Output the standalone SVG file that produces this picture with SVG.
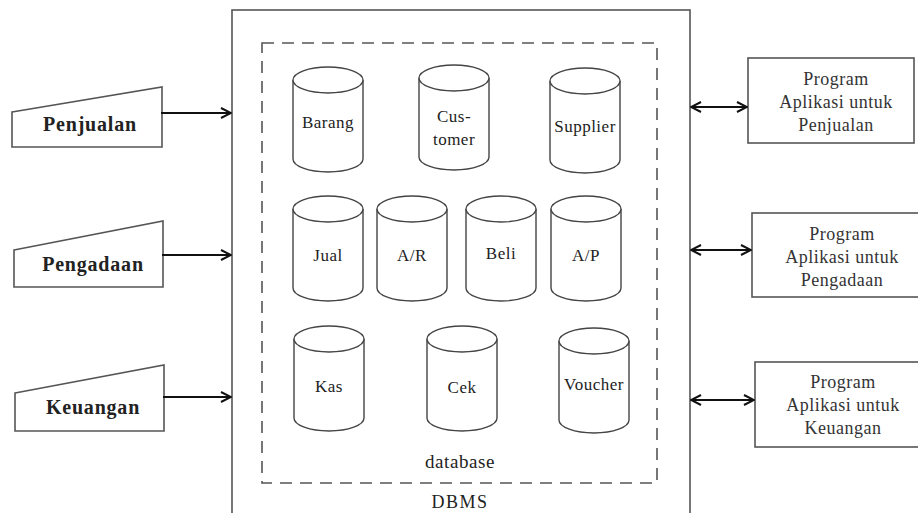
<svg xmlns="http://www.w3.org/2000/svg" width="918" height="513" viewBox="0 0 918 513" font-family="'Liberation Serif', 'Times New Roman', 'DejaVu Serif', serif">
<style>
.box{fill:#fff;stroke:#555;stroke-width:1.6}
.cyl{fill:#fff;stroke:#444;stroke-width:1.4}
text{font-family:'Liberation Serif','Times New Roman','DejaVu Serif',serif;fill:#222;text-anchor:middle}
.cl{font-size:17px;letter-spacing:0.5px}
.in{font-size:20px;font-weight:bold;letter-spacing:0.8px}
.pg{font-size:18px;letter-spacing:0.5px;fill:#333}
.conn{stroke:#111;stroke-width:2;fill:none}
</style>
<defs>
<marker id="ah" viewBox="0 0 12 12" refX="11" refY="6" markerWidth="12" markerHeight="12" markerUnits="userSpaceOnUse" orient="auto-start-reverse">
<path d="M1,1 L11,6 L1,11" fill="none" stroke="#111" stroke-width="2"/>
</marker>
<g id="cylShape">
<path class="cyl" d="M0,13 A35,13 0 0 1 70,13 L70,92 A35,13 0 0 1 0,92 Z"/>
<path class="cyl" d="M0,13 A35,13 0 0 0 70,13" fill="none"/>
</g>
</defs>
<rect width="918" height="513" fill="#fff"/>

<g id="dbms">
<rect x="232" y="10" width="458" height="520" class="box"/>
<text x="460" y="508" font-size="18" letter-spacing="1.5" fill="#333">DBMS</text>
</g>
<g id="database">
<rect x="262" y="43" width="395" height="440" fill="none" stroke="#555" stroke-width="1.6" stroke-dasharray="12,8"/>
<text x="460" y="468" font-size="19" letter-spacing="0.6">database</text>
</g>

<g id="barang"><use href="#cylShape" x="293" y="67"/><text class="cl" x="328" y="128">Barang</text></g>
<g id="customer"><use href="#cylShape" x="419" y="65"/><text class="cl" x="454" y="122">Cus-</text><text class="cl" x="454" y="145">tomer</text></g>
<g id="supplier"><use href="#cylShape" x="550" y="68"/><text class="cl" x="585" y="132">Supplier</text></g>

<g id="jual"><use href="#cylShape" x="293" y="196"/><text class="cl" x="328" y="261">Jual</text></g>
<g id="ar"><use href="#cylShape" x="377" y="196"/><text class="cl" x="412" y="261">A/R</text></g>
<g id="beli"><use href="#cylShape" x="466" y="196"/><text class="cl" x="501" y="259">Beli</text></g>
<g id="ap"><use href="#cylShape" x="551" y="196"/><text class="cl" x="586" y="261">A/P</text></g>

<g id="kas"><use href="#cylShape" x="294" y="326"/><text class="cl" x="329" y="392">Kas</text></g>
<g id="cek"><use href="#cylShape" x="427" y="326"/><text class="cl" x="462" y="393">Cek</text></g>
<g id="voucher"><use href="#cylShape" x="559" y="328"/><text class="cl" x="594" y="390">Voucher</text></g>

<g id="in-penjualan">
<path class="box" d="M12,112 L162,87 L162,147 L12,147 Z"/>
<text class="in" x="90" y="131">Penjualan</text>
</g>
<g id="in-pengadaan">
<path class="box" d="M14,250 L163,221 L163,287 L14,287 Z"/>
<text class="in" x="93" y="271">Pengadaan</text>
</g>
<g id="in-keuangan">
<path class="box" d="M15,393 L164,365 L164,431 L15,431 Z"/>
<text class="in" x="93" y="414">Keuangan</text>
</g>

<g id="prog-penjualan">
<rect x="748" y="58" width="166" height="85" class="box"/>
<text class="pg" x="836" y="85">Program</text>
<text class="pg" x="836" y="108">Aplikasi untuk</text>
<text class="pg" x="836" y="131">Penjualan</text>
</g>
<g id="prog-pengadaan">
<rect x="752" y="213" width="168" height="84" class="box"/>
<text class="pg" x="842" y="240">Program</text>
<text class="pg" x="842" y="263">Aplikasi untuk</text>
<text class="pg" x="842" y="286">Pengadaan</text>
</g>
<g id="prog-keuangan">
<rect x="755" y="362" width="165" height="85" class="box"/>
<text class="pg" x="843" y="388">Program</text>
<text class="pg" x="843" y="411">Aplikasi untuk</text>
<text class="pg" x="843" y="434">Keuangan</text>
</g>

<g id="connectors">
<line class="conn" x1="161" y1="113" x2="231" y2="113" marker-end="url(#ah)"/>
<line class="conn" x1="162" y1="255" x2="231" y2="255" marker-end="url(#ah)"/>
<line class="conn" x1="163" y1="397" x2="231" y2="397" marker-end="url(#ah)"/>
<line class="conn" x1="691" y1="107" x2="747" y2="107" marker-start="url(#ah)" marker-end="url(#ah)"/>
<line class="conn" x1="691" y1="250" x2="751" y2="250" marker-start="url(#ah)" marker-end="url(#ah)"/>
<line class="conn" x1="691" y1="400" x2="754" y2="400" marker-start="url(#ah)" marker-end="url(#ah)"/>
</g>
</svg>
